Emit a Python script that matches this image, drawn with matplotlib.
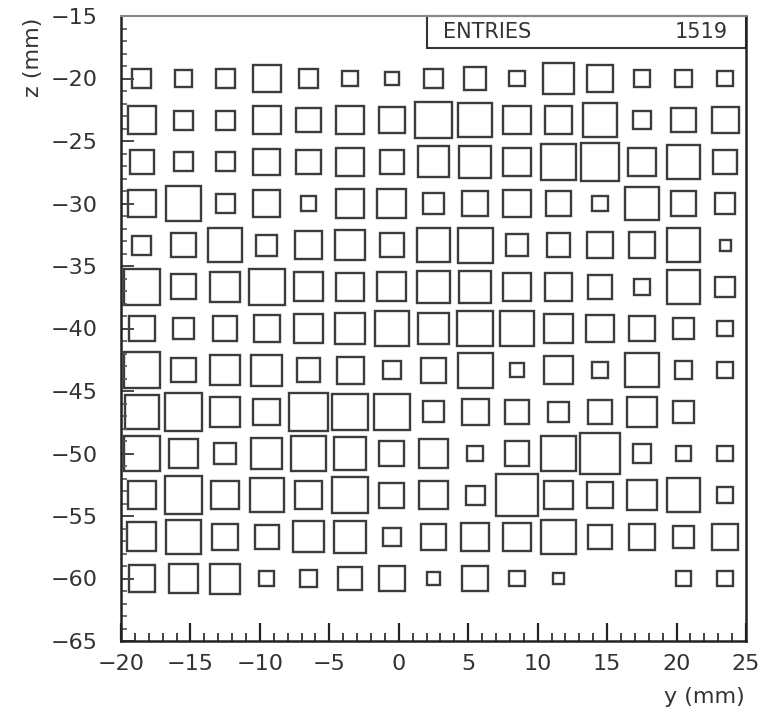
"""
Box plot of hit map, z vs y (mm)
"""

import numpy as np
import matplotlib.pyplot as plt
from matplotlib.patches import Rectangle
from matplotlib.ticker import MultipleLocator

#> Bin centers (y: 3 mm bins, z: 10/3 mm bins)
y_centers = [-18.5, -15.5, -12.5, -9.5, -6.5, -3.5, -0.5, 2.5, 5.5, 8.5, 11.5, 14.5, 17.5, 20.5, 23.5]
z_centers = [-20.0, -23.33, -26.67, -30.0, -33.33, -36.67, -40.0, -43.33, -46.67, -50.0, -53.33, -56.67, -60.0]
y_bw = 3.
z_bw = 10. / 3.

#> Box side as fraction of the cell, one list per z row (top to bottom)
row_00 = [.46, .40, .46, .66, .44, .38, .32, .46, .54, .37, .76, .64, .39, .42, .38]
row_01 = [.66, .46, .46, .66, .58, .68, .62, .88, .82, .66, .66, .82, .44, .58, .64]
row_02 = [.58, .46, .46, .64, .58, .66, .57, .74, .76, .66, .86, .90, .68, .81, .58]
row_03 = [.66, .83, .46, .64, .37, .68, .70, .50, .62, .66, .58, .38, .80, .58, .48]
row_04 = [.46, .58, .83, .50, .66, .71, .58, .80, .84, .54, .56, .64, .62, .81, .26]
row_05 = [.86, .60, .72, .86, .70, .66, .70, .78, .78, .66, .66, .58, .40, .81, .48]
row_06 = [.62, .52, .58, .63, .70, .73, .82, .74, .86, .83, .68, .66, .62, .52, .38]
row_07 = [.86, .58, .72, .75, .56, .65, .44, .60, .84, .34, .68, .38, .80, .42, .38]
row_08 = [.80, .90, .72, .64, .92, .86, .86, .50, .64, .58, .49, .58, .71, .52, 0.]
row_09 = [.86, .70, .52, .74, .82, .78, .60, .70, .38, .58, .86, .96, .44, .34, .38]
row_10 = [.66, .90, .66, .83, .66, .87, .60, .68, .45, 1.0, .68, .64, .71, .81, .38]
row_11 = [.70, .82, .64, .56, .74, .76, .44, .62, .66, .66, .82, .58, .62, .52, .63]
row_12 = [.63, .68, .72, .36, .42, .57, .62, .30, .62, .38, .28, 0., 0., .34, .38]

box_size = np.array([row_00, row_01, row_02, row_03, row_04, row_05, row_06,
                     row_07, row_08, row_09, row_10, row_11, row_12])

n_entries = 1519

fig = plt.figure(figsize=(7.79, 7.11), dpi=100)
ax = fig.add_axes([121/779, 1 - 641/711, 625/779, 625/711])

#> Draw the boxes
for i, zc in enumerate(z_centers):
    for j, yc in enumerate(y_centers):
        s = box_size[i, j]
        if s <= 0:
            continue
        w, h = s * y_bw, s * z_bw
        ax.add_patch(Rectangle((yc - w/2, zc - h/2), w, h, fill=False,
                               edgecolor='#3c3c3c', lw=1.7))

ax.set_xlim(-20, 25)
ax.set_ylim(-65, -15)

#> Axis style (PAW-like)
for side in ['left', 'bottom', 'right']:
    ax.spines[side].set_linewidth(1.8)
    ax.spines[side].set_color('#222222')
ax.spines['top'].set_linewidth(1.5)
ax.spines['top'].set_color('#888888')

ax.xaxis.set_major_locator(MultipleLocator(5))
ax.xaxis.set_minor_locator(MultipleLocator(1))
ax.yaxis.set_major_locator(MultipleLocator(5))
ax.yaxis.set_minor_locator(MultipleLocator(1))
ax.tick_params(axis='x', which='major', direction='in', length=13, width=1.6,
               pad=9, labelsize=16, color='#222222', labelcolor='#333333')
ax.tick_params(axis='x', which='minor', direction='in', length=5.5, width=1.3, color='#333333')
ax.tick_params(axis='y', which='major', direction='in', length=9, width=1.4,
               pad=17, labelsize=16, color='#444444', labelcolor='#333333')
ax.tick_params(axis='y', which='minor', direction='in', length=4.5, width=1.2, color='#555555')

#> Axis titles
fig.text(33/779, 1 - 18/711, 'z (mm)', rotation=90, ha='center', va='top',
         fontsize=16, color='#333333')
fig.text(745/779, 1 - 697/711, 'y (mm)', ha='right', va='center',
         fontsize=16, color='#333333')

#> Statistics box
ax.add_patch(Rectangle((306/625, 1 - 32/625), 319/625, 32/625, transform=ax.transAxes,
                       fill=False, edgecolor='#333333', lw=1.5, clip_on=False))
ax.text(322/625, 1 - 16/625, 'ENTRIES', transform=ax.transAxes, ha='left', va='center',
        fontsize=15, color='#333333')
ax.text(607/625, 1 - 16/625, str(n_entries), transform=ax.transAxes, ha='right', va='center',
        fontsize=15, color='#333333')

fig.savefig('out.png', dpi=100)
